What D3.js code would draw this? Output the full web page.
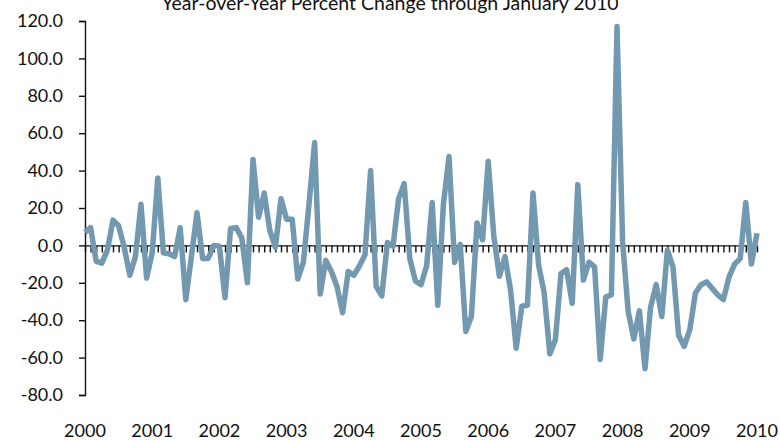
<!DOCTYPE html>
<html>
<head>
<meta charset="utf-8">
<script src="https://cdn.jsdelivr.net/npm/d3@7"></script>
<style>
  body { margin: 0; background: #fff; }
  text { font-family: Lato, "Open Sans", sans-serif; fill: #111; }
</style>
</head>
<body>
<svg id="chart" width="780" height="440"></svg>
<script>
var TITLE = 'Year-over-Year Percent Change through January 2010'
var yearLabels = ['2000', '2001', '2002', '2003', '2004', '2005', '2006', '2007', '2008', '2009', '2010']
var yTicks = [-80, -60, -40, -20, 0, 20, 40, 60, 80, 100, 120]

// monthly values, Jan 2000 .. Jan 2010
var v2000 = [7, 9.5, -8.5, -9.5, -2.5, 13.5, 10.5, -1, -16, -6, 22, -17.5]
var v2001 = [-4, 36, -4, -4.5, -6, 9.5, -29, -6, 17.5, -7, -7, 0]
var v2002 = [-0.5, -28, 9, 9.5, 4, -20, 46, 15, 28, 8, -1, 25]
var v2003 = [14, 14, -18, -9, 22, 55, -26, -8, -14, -22, -36, -14]
var v2004 = [-16, -11, -5, 40, -22, -27, 1.5, -0.5, 25, 33, -7, -19]
var v2005 = [-21, -11, 23, -32, 22, 47.5, -9, 0.5, -46, -38, 12, 3]
var v2006 = [45, 5, -16.5, -6, -24, -55, -32.5, -32, 28, -10.5, -25.5, -58]
var v2007 = [-50.5, -15, -13, -31, 32.5, -18.5, -9, -11.5, -61, -27.5, -26.5, 117]
var v2008 = [2, -35.5, -50, -35, -66, -33, -21, -38, -2.5, -11.5, -48, -54]
var v2009 = [-45, -25.5, -21, -19.5, -23, -26.5, -29, -17, -10, -7, 23, -10]
var v2010 = [6.5]

var values = [].concat(v2000, v2001, v2002, v2003, v2004, v2005, v2006, v2007, v2008, v2009, v2010)

var svg = d3.select('#chart')

var x = d3.scaleLinear().domain([0, values.length - 1]).range([85, 757])
var y = d3.scaleLinear().domain([-80, 120]).range([395, 21])

function fmt (d) {
  return d3.format('.1f')(d).replace('\u2212', '-')
}

// title (cut off at the top like the original)
svg.append('text')
  .attr('x', 390)
  .attr('y', 10)
  .attr('text-anchor', 'middle')
  .style('font-size', '19.5px')
  .text(TITLE)

// y axis
var yAxis = svg.append('g')
  .attr('transform', 'translate(' + x(0) + ',0)')
  .call(d3.axisLeft(y).tickValues(yTicks).tickFormat(fmt).tickSize(6).tickPadding(16))
yAxis.select('.domain').attr('stroke', '#111').attr('stroke-width', 1.4)
yAxis.selectAll('.tick line').attr('stroke', '#111').attr('stroke-width', 1.4)
yAxis.selectAll('.tick text').style('font-size', '18px').attr('fill', '#111')

// zero line with monthly ticks
var zero = svg.append('g')
  .attr('transform', 'translate(0,' + y(0) + ')')
  .call(d3.axisBottom(x).tickValues(d3.range(values.length)).tickFormat('').tickSize(7).tickSizeOuter(0))
zero.select('.domain').attr('stroke', '#111').attr('stroke-width', 1.4)
zero.selectAll('.tick line').attr('stroke', '#111').attr('stroke-width', 1.4)

// year labels
svg.append('g').selectAll('text')
  .data(yearLabels)
  .enter().append('text')
  .attr('x', function (d, i) { return x(i * 12) })
  .attr('y', 437)
  .attr('text-anchor', 'middle')
  .style('font-size', '18px')
  .text(function (d) { return d })

// the series
var line = d3.line()
  .x(function (d, i) { return x(i) })
  .y(function (d) { return y(d) })

svg.append('path')
  .datum(values)
  .attr('d', line)
  .attr('fill', 'none')
  .attr('stroke', '#7399b1')
  .attr('stroke-width', 5.5)
  .attr('stroke-linejoin', 'round')
</script>
</body>
</html>
